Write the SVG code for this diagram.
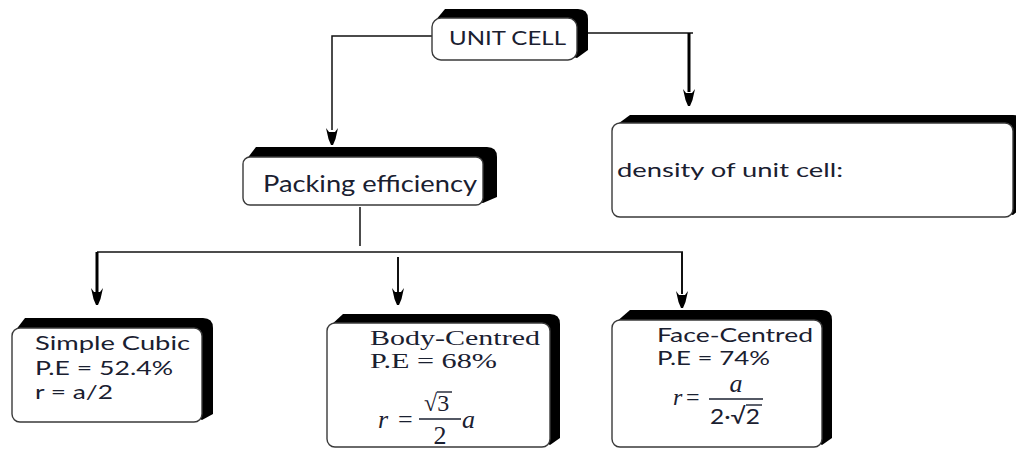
<svg xmlns="http://www.w3.org/2000/svg" xmlns:xlink="http://www.w3.org/1999/xlink" width="1016" height="449" viewBox="0 0 1016 449">
  <style>
    .shadow { fill: #000; }
    .box { fill: #fff; stroke: #3a3a3a; stroke-width: 1.4; }
    .wire { fill: none; stroke: #111; stroke-width: 1.5; }
    .wire-bold { fill: none; stroke: #000; stroke-width: 3; }
    .wire-mid { fill: none; stroke: #111; stroke-width: 2; }
    .sans { font-family: Lato, "Open Sans", "Liberation Sans", sans-serif; fill: #1a2030; }
    .serif { font-family: "Liberation Serif", "Times New Roman", serif; fill: #1a2030; }
    .it { font-style: italic; }
    .bar { stroke: #1a2030; stroke-width: 1.4; fill: none; }
  </style>
  <defs>
    <!-- notched arrowhead, tip at origin pointing down -->
    <path id="head" d="M-6,-17 L-3,-13 L3,-13 L6,-17 L3.5,-6 L1,0 L-1,0 L-3.5,-6 Z" fill="#000"/>
  </defs>

  <g id="connectors">
    <path class="wire" d="M437,36 H332 V130"/>
    <use xlink:href="#head" x="332" y="145"/>
    <path class="wire" d="M577,33 H693"/>
    <path class="wire-bold" d="M689,33 V92"/>
    <use xlink:href="#head" x="689" y="106"/>
    <path class="wire" d="M360,207 V246"/>
    <path class="wire" d="M97,252 H683"/>
    <path class="wire-bold" d="M97,252 V292"/>
    <use xlink:href="#head" x="97" y="305"/>
    <path class="wire-mid" d="M398,257 V292"/>
    <use xlink:href="#head" x="398" y="305"/>
    <path class="wire-mid" d="M682,252 V294"/>
    <use xlink:href="#head" x="682" y="308"/>
  </g>

  <g id="unit-cell">
    <path class="shadow" d="M435,21 L445,9 L578,9 Q588,9 588,19 L588,50 L577,58 Z"/>
    <rect class="box" x="432" y="18" width="145" height="42" rx="9"/>
    <text class="sans" x="449" y="45" font-size="20" textLength="117" lengthAdjust="spacingAndGlyphs">UNIT CELL</text>
  </g>

  <g id="packing-efficiency">
    <path class="shadow" d="M246,160 L256,147 L487,147 Q497,147 497,157 L497,197 L483,203 Z"/>
    <rect class="box" x="243" y="157" width="240" height="48" rx="7"/>
    <text class="sans" x="263" y="192" font-size="23" textLength="214" lengthAdjust="spacingAndGlyphs">Packing efficiency</text>
  </g>

  <g id="density">
    <path class="shadow" d="M615,126 L630,115 L1013,115 Q1023,115 1023,125 L1023,207 L1013,215 Z"/>
    <rect class="box" x="612" y="123" width="401" height="94" rx="8"/>
    <text class="sans" x="617" y="177" font-size="20" textLength="226" lengthAdjust="spacingAndGlyphs">density of unit cell:</text>
  </g>

  <g id="simple-cubic">
    <path class="shadow" d="M15,331 L25,318 L203,318 Q213,318 213,328 L213,414 L202,420 Z"/>
    <rect class="box" x="12" y="328" width="190" height="94" rx="8"/>
    <text class="sans" x="35" y="350" font-size="20" textLength="155" lengthAdjust="spacingAndGlyphs">Simple Cubic</text>
    <text class="sans" x="35" y="375" font-size="20" textLength="138" lengthAdjust="spacingAndGlyphs">P.E = 52.4%</text>
    <text class="sans" x="35" y="399" font-size="20" textLength="78" lengthAdjust="spacingAndGlyphs">r = a/2</text>
  </g>

  <g id="body-centred">
    <path class="shadow" d="M330,326 L343,314 L550,314 Q560,314 560,324 L560,438 L550,445 Z"/>
    <rect class="box" x="327" y="323" width="223" height="124" rx="8"/>
    <text class="serif" x="370" y="345" font-size="22" textLength="170" lengthAdjust="spacingAndGlyphs">Body-Centred</text>
    <text class="serif" x="370" y="368" font-size="22" textLength="127" lengthAdjust="spacingAndGlyphs">P.E = 68%</text>
    <text class="serif it" x="378" y="428" font-size="26">r</text>
    <text class="serif" x="398" y="428" font-size="26">=</text>
    <text class="serif" x="424" y="411" font-size="24">√3</text>
    <path class="bar" d="M437,392 H452"/>
    <path class="bar" d="M419,419 H461"/>
    <text class="serif" x="440" y="444" font-size="26" text-anchor="middle">2</text>
    <text class="serif it" x="462" y="428" font-size="26">a</text>
  </g>

  <g id="face-centred">
    <path class="shadow" d="M615,323 L630,310 L822,310 Q832,310 832,320 L832,438 L822,445 Z"/>
    <rect class="box" x="612" y="320" width="210" height="127" rx="8"/>
    <text class="sans" x="657" y="342" font-size="19" textLength="156" lengthAdjust="spacingAndGlyphs">Face-Centred</text>
    <text class="sans" x="657" y="365" font-size="19" textLength="113" lengthAdjust="spacingAndGlyphs">P.E = 74%</text>
    <text class="serif it" x="673" y="405" font-size="24">r</text>
    <text class="serif" x="686" y="405" font-size="24">=</text>
    <text class="serif it" x="736" y="392" font-size="26" text-anchor="middle">a</text>
    <path class="bar" d="M709,399 H763"/>
    <text class="sans" x="710" y="424" font-size="22" textLength="50" lengthAdjust="spacingAndGlyphs">2·√2</text>
    <path class="bar" d="M746,405 H762"/>
  </g>
</svg>
